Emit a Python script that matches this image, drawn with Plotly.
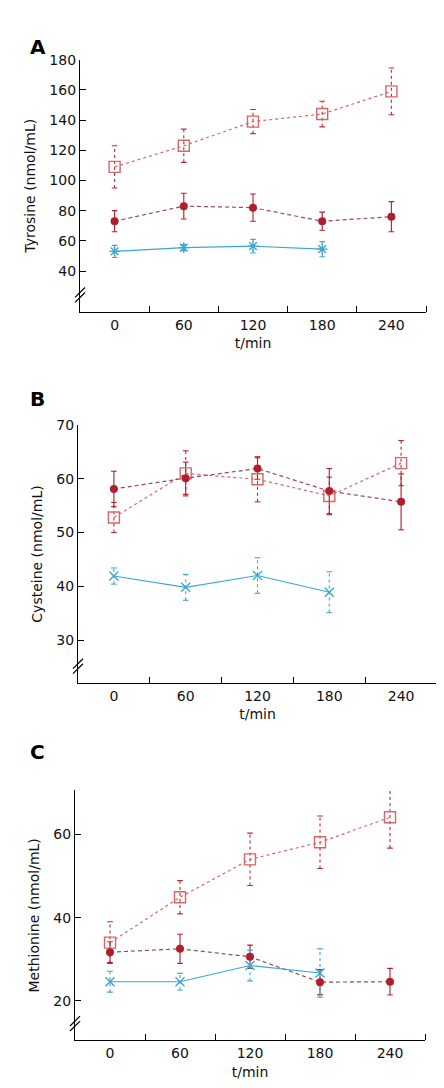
import plotly.graph_objects as go

# time points (min)
t = [0, 60, 120, 180, 240]
t_short = [0, 60, 120, 180]

# A - tyrosine
tyr_sq = [109, 123, 139, 144, 159]
tyr_sq_err = [14, 11, 8, 8.5, 15.5]
tyr_dot = [73, 83, 82, 73, 76]
tyr_dot_err = [7, 8.5, 9, 6, 10]
tyr_x = [53, 55.5, 56.5, 54.5]
tyr_x_err = [4, 2, 4.5, 5]

# B - cysteine
cys_sq = [52.8, 61, 59.9, 56.8, 62.9]
cys_sq_err = [2.8, 4.2, 4.2, 3.5, 4.2]
cys_dot = [58.1, 60.1, 61.9, 57.7, 55.7]
cys_dot_err = [3.3, 3, 2, 4.2, 5.2]
cys_x = [41.9, 39.8, 42, 38.9]
cys_x_err = [1.5, 2.4, 3.3, 3.8]

# C - methionine
met_sq = [34, 44.9, 54, 58.1, 64.1]
met_sq_err = [5, 4, 6.3, 6.3, 7.4]
met_dot = [31.7, 32.5, 30.6, 24.5, 24.6]
met_dot_err = [2.5, 3.5, 2.8, 3, 3.2]
met_x = [24.6, 24.6, 28.5, 26.7]
met_x_err = [2.5, 2, 3.7, 5.8]

W, H = 444, 1088
SQ_COL = "#c1272d"
SQ_LINE = "#d9646a"
DOT_COL = "#b01e2c"
DOT_LINE = "#9a4a50"
BLUE = "#3ba7d3"
FONT = "DejaVu Sans"

# panel boxes in page pixels: left, right, top, bottom
panels = [
    dict(box=(72, 418, 44, 298), yr=[13, 180], tv=[40, 60, 80, 100, 120, 140, 160, 180],
         title="Tyrosine (nmol/mL)", letter="A", ly=17, xsym="asterisk-open",
         data=(tyr_sq, tyr_sq_err, tyr_dot, tyr_dot_err, tyr_x, tyr_x_err)),
    dict(box=(70, 429, 412, 672), yr=[22, 70], tv=[30, 40, 50, 60, 70],
         title="Cysteine (nmol/mL)", letter="B", ly=386, xsym="x-thin-open",
         data=(cys_sq, cys_sq_err, cys_dot, cys_dot_err, cys_x, cys_x_err)),
    dict(box=(67, 417, 780, 1032), yr=[10.5, 70.6], tv=[20, 40, 60],
         title="Methionine (nmol/mL)", letter="C", ly=756, xsym="x-thin-open",
         data=(met_sq, met_sq_err, met_dot, met_dot_err, met_x, met_x_err)),
]


def err_trace(xs, ys, es, color, dash, xa, ya):
    ex, ey = [], []
    for x, y, e in zip(xs, ys, es):
        ex += [x, x, None]
        ey += [y - e, y + e, None]
    return go.Scatter(x=ex, y=ey, mode="lines+markers", xaxis=xa, yaxis=ya,
                      line=dict(color=color, width=1.1, dash=dash),
                      marker=dict(symbol="line-ew-open", size=4,
                                  line=dict(color=color, width=1.1)),
                      showlegend=False, hoverinfo="skip")


fig = go.Figure()
shapes = []
annotations = []

for i, p in enumerate(panels):
    n = "" if i == 0 else str(i + 1)
    xa, ya = "x" + n, "y" + n
    l, r, tp, bt = p["box"]
    sq, sq_e, dt, dt_e, bx, bx_e = p["data"]

    fig.add_trace(err_trace(t, sq, sq_e, SQ_COL, "dot", xa, ya))
    fig.add_trace(err_trace(t, dt, dt_e, DOT_COL, "solid", xa, ya))
    fig.add_trace(err_trace(t_short, bx, bx_e, BLUE, "dot", xa, ya))

    fig.add_trace(go.Scatter(x=t, y=sq, mode="lines+markers", xaxis=xa, yaxis=ya,
                             line=dict(color=SQ_LINE, width=1.2, dash="dot"),
                             marker=dict(symbol="square-open", size=11,
                                         line=dict(color=SQ_COL, width=1.4)),
                             showlegend=False))
    fig.add_trace(go.Scatter(x=t, y=dt, mode="lines+markers", xaxis=xa, yaxis=ya,
                             line=dict(color=DOT_LINE, width=1.2, dash="4px,3px"),
                             marker=dict(symbol="circle", size=8, color=DOT_COL),
                             showlegend=False))
    fig.add_trace(go.Scatter(x=t_short, y=bx, mode="lines+markers", xaxis=xa, yaxis=ya,
                             line=dict(color=BLUE, width=1.1),
                             marker=dict(symbol=p["xsym"], size=9,
                                         line=dict(color=BLUE, width=1.4)),
                             showlegend=False))

    xdom = [l / W, r / W]
    ydom = [1 - bt / H, 1 - tp / H]
    fig.update_layout(**{
        "xaxis" + n: dict(domain=xdom, anchor=ya, range=[-30, 270],
                          tickvals=t, ticktext=[str(v) for v in t], ticks="",
                          showline=True, linecolor="black", linewidth=1.2,
                          showgrid=False, zeroline=False,
                          minor=dict(tickvals=[30, 90, 150, 210, 270], ticks="inside",
                                     ticklen=6, tickcolor="black", tickwidth=1.2,
                                     showgrid=False),
                          tickfont=dict(family=FONT, size=14, color="#111"),
                          title=dict(text="t/min", standoff=6,
                                     font=dict(family=FONT, size=14, color="#111"))),
        "yaxis" + n: dict(domain=ydom, anchor=xa, range=p["yr"], tickvals=p["tv"],
                          ticks="inside", ticklen=6, tickwidth=1.2, tickcolor="black",
                          showline=True, linecolor="black", linewidth=1.2,
                          showgrid=False, zeroline=False,
                          tickfont=dict(family=FONT, size=14, color="#111"),
                          title=dict(text=p["title"], standoff=10,
                                     font=dict(family=FONT, size=14, color="#111"))),
    })

    # axis break mark: two parallel slashes across the y axis
    cy = bt - 17
    for dy in (-2.5, 2.5):
        shapes.append(dict(type="line", xref="paper", yref="paper",
                           x0=(l - 5) / W, y0=1 - (cy + 5 + dy) / H,
                           x1=(l + 5) / W, y1=1 - (cy - 5 + dy) / H,
                           line=dict(color="black", width=1.2)))

    annotations.append(dict(text="<b>" + p["letter"] + "</b>", xref="paper", yref="paper",
                            x=20 / W, y=1 - p["ly"] / H, showarrow=False,
                            font=dict(family=FONT, size=20, color="black")))

fig.update_layout(width=W, height=H, margin=dict(l=0, r=0, t=0, b=0),
                  paper_bgcolor="white", plot_bgcolor="white",
                  shapes=shapes, annotations=annotations)

fig.write_html("out.html")
